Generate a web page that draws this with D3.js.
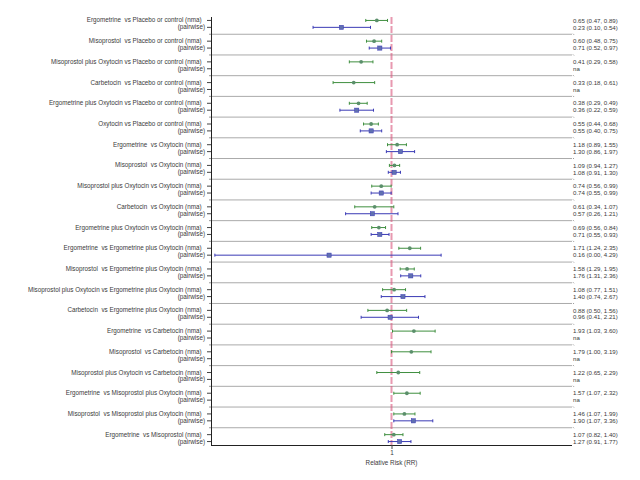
<!DOCTYPE html>
<html>
<head>
<meta charset="utf-8">
<script src="https://cdn.jsdelivr.net/npm/d3@7/dist/d3.min.js"></script>
<style>
  body { margin: 0; background: #fff; }
  svg text { font-family: "Liberation Sans", Arial, sans-serif; fill: #3a3a3a; }
</style>
</head>
<body>
<div id="chart"></div>
<script>
// ── Data ──────────────────────────────────────────────────────────────
var comparisons = [
    "Ergometrine  vs Placebo or control",
    "Misoprostol  vs Placebo or control",
    "Misoprostol plus Oxytocin vs Placebo or control",
    "Carbetocin  vs Placebo or control",
    "Ergometrine plus Oxytocin vs Placebo or control",
    "Oxytocin vs Placebo or control",
    "Ergometrine  vs Oxytocin",
    "Misoprostol  vs Oxytocin",
    "Misoprostol plus Oxytocin vs Oxytocin",
    "Carbetocin  vs Oxytocin",
    "Ergometrine plus Oxytocin vs Oxytocin",
    "Ergometrine  vs Ergometrine plus Oxytocin",
    "Misoprostol  vs Ergometrine plus Oxytocin",
    "Misoprostol plus Oxytocin vs Ergometrine plus Oxytocin",
    "Carbetocin  vs Ergometrine plus Oxytocin",
    "Ergometrine  vs Carbetocin",
    "Misoprostol  vs Carbetocin",
    "Misoprostol plus Oxytocin vs Carbetocin",
    "Ergometrine  vs Misoprostol plus Oxytocin",
    "Misoprostol  vs Misoprostol plus Oxytocin",
    "Ergometrine  vs Misoprostol"
];

// network meta-analysis estimates: RR, lower, upper
var nmaRR = [0.65, 0.60, 0.41, 0.33, 0.38, 0.55, 1.18, 1.09, 0.74, 0.61, 0.69,
             1.71, 1.58, 1.08, 0.88, 1.93, 1.79, 1.22, 1.57, 1.46, 1.07];
var nmaLo = [0.47, 0.48, 0.29, 0.18, 0.29, 0.44, 0.89, 0.94, 0.56, 0.34, 0.56,
             1.24, 1.29, 0.77, 0.50, 1.03, 1.00, 0.65, 1.07, 1.07, 0.82];
var nmaHi = [0.89, 0.75, 0.58, 0.61, 0.49, 0.68, 1.55, 1.27, 0.99, 1.07, 0.84,
             2.35, 1.95, 1.51, 1.56, 3.60, 3.19, 2.29, 2.32, 1.99, 1.40];

// pairwise estimates (null = not available)
var pwRR = [0.23, 0.71, null, null, 0.36, 0.55, 1.30, 1.08, 0.74, 0.57, 0.71,
            0.16, 1.76, 1.40, 0.96, null, null, null, null, 1.90, 1.27];
var pwLo = [0.10, 0.52, null, null, 0.22, 0.40, 0.86, 0.91, 0.55, 0.26, 0.55,
            0.0056, 1.31, 0.74, 0.41, null, null, null, null, 1.07, 0.91];
var pwHi = [0.54, 0.97, null, null, 0.59, 0.75, 1.97, 1.30, 0.99, 1.21, 0.93,
            4.29, 2.36, 2.67, 2.21, null, null, null, null, 3.36, 1.77];

// printed estimate labels on the right
var nmaText = ["0.65 (0.47, 0.89)", "0.60 (0.48, 0.75)", "0.41 (0.29, 0.58)",
    "0.33 (0.18, 0.61)", "0.38 (0.29, 0.49)", "0.55 (0.44, 0.68)", "1.18 (0.89, 1.55)",
    "1.09 (0.94, 1.27)", "0.74 (0.56, 0.99)", "0.61 (0.34, 1.07)", "0.69 (0.56, 0.84)",
    "1.71 (1.24, 2.35)", "1.58 (1.29, 1.95)", "1.08 (0.77, 1.51)", "0.88 (0.50, 1.56)",
    "1.93 (1.03, 3.60)", "1.79 (1.00, 3.19)", "1.22 (0.65, 2.29)", "1.57 (1.07, 2.32)",
    "1.46 (1.07, 1.99)", "1.07 (0.82, 1.40)"];
var pwText = ["0.23 (0.10, 0.54)", "0.71 (0.52, 0.97)", "na", "na",
    "0.36 (0.22, 0.59)", "0.55 (0.40, 0.75)", "1.30 (0.86, 1.97)", "1.08 (0.91, 1.30)",
    "0.74 (0.55, 0.99)", "0.57 (0.26, 1.21)", "0.71 (0.55, 0.93)", "0.16 (0.00, 4.29)",
    "1.76 (1.31, 2.36)", "1.40 (0.74, 2.67)", "0.96 (0.41, 2.21)", "na", "na", "na", "na",
    "1.90 (1.07, 3.36)", "1.27 (0.91, 1.77)"];

var xTicks = [1];
var xTitle = "Relative Risk (RR)";

// ── Layout ────────────────────────────────────────────────────────────
var width = 640, height = 480;
var mLeft = 211, mRight = 572, mTop = 17, mBottom = 445;

var svg = d3.select('#chart').append('svg')
    .attr('width', width).attr('height', height);

// three slots per comparison: nma, pairwise, spacer (last spacer dropped)
var slots = [];
comparisons.forEach(function (c, i) {
    slots.push({ key: i + '_n', i: i, kind: 'nma', label: c + ' (nma)  ' });
    slots.push({ key: i + '_p', i: i, kind: 'pw', label: '(pairwise)' });
    if (i < comparisons.length - 1) slots.push({ key: i + '_s', i: i, kind: 'sp', label: '' });
});
var slotLabel = {};
slots.forEach(function (s) { slotLabel[s.key] = s.label; });

var y = d3.scaleBand()
    .domain(slots.map(function (d) { return d.key; }))
    .range([mTop, mBottom]);
var yc = function (k) { return y(k) + y.bandwidth() / 2; };

var x = d3.scaleLog().domain([0.005, 200]).range([mLeft, mRight]).clamp(true);

var spacers = slots.filter(function (d) { return d.kind === 'sp'; });

// separators between comparisons
svg.append('g').selectAll('line')
    .data(spacers)
    .enter().append('line')
    .attr('x1', mLeft).attr('x2', mRight)
    .attr('y1', function (d) { return yc(d.key); })
    .attr('y2', function (d) { return yc(d.key); })
    .attr('stroke', '#aaa').attr('stroke-width', 1);

// small marks at spacer slots on the right
svg.append('g').selectAll('line')
    .data(spacers)
    .enter().append('line')
    .attr('x1', mRight + 1).attr('x2', mRight + 2)
    .attr('y1', function (d) { return yc(d.key) - 0.5; })
    .attr('y2', function (d) { return yc(d.key) + 0.5; })
    .attr('stroke', '#999');

// reference line at RR = 1
svg.append('line')
    .attr('x1', x(1)).attr('x2', x(1))
    .attr('y1', mTop).attr('y2', mBottom)
    .attr('stroke', '#d9557c').attr('stroke-opacity', 0.6)
    .attr('stroke-width', 2).attr('stroke-dasharray', '7,2');

// left axis with row labels
var yAxisG = svg.append('g')
    .attr('transform', 'translate(' + mLeft + ',0)')
    .call(d3.axisLeft(y).tickSize(4).tickPadding(2)
        .tickFormat(function (k) { return slotLabel[k]; }));
yAxisG.select('.domain').attr('stroke', '#222').attr('d', 'M0.5,' + mTop + 'V' + mBottom);
yAxisG.selectAll('.tick text')
    .style('font-size', '6.3px').style('white-space', 'pre').attr('fill', '#3a3a3a');
yAxisG.selectAll('.tick line').attr('stroke', '#444');
yAxisG.selectAll('.tick').filter(function (k) { return /_s$/.test(k); })
    .select('line').attr('x2', -2).attr('stroke', '#999');

// bottom axis
var xAxisG = svg.append('g')
    .attr('transform', 'translate(0,' + mBottom + ')')
    .call(d3.axisBottom(x).tickValues(xTicks).tickSize(4).tickPadding(2)
        .tickFormat(d3.format('d')));
xAxisG.select('.domain').attr('stroke', '#222').attr('d', 'M' + mLeft + ',0.5H' + mRight);
xAxisG.selectAll('.tick text').style('font-size', '6.3px').attr('fill', '#3a3a3a');
xAxisG.selectAll('.tick line').attr('stroke', '#444');

svg.append('text')
    .attr('x', x(1)).attr('y', 465)
    .attr('text-anchor', 'middle')
    .style('font-size', '6.3px')
    .text(xTitle);

// estimates
var greenLine = '#3f8f3f', greenPt = '#5b8f6b';
var blueLine = '#3a3ab5', bluePt = '#6070b0';

var g = svg.append('g');
comparisons.forEach(function (c, i) {
    var yn = yc(i + '_n'), yp = yc(i + '_p');

    // nma: line, caps, circle
    g.append('line')
        .attr('x1', x(nmaLo[i])).attr('x2', x(nmaHi[i]))
        .attr('y1', yn).attr('y2', yn)
        .attr('stroke', greenLine).attr('stroke-width', 1);
    [nmaLo[i], nmaHi[i]].forEach(function (v) {
        g.append('line')
            .attr('x1', x(v)).attr('x2', x(v))
            .attr('y1', yn - 1.5).attr('y2', yn + 1.5)
            .attr('stroke', greenLine);
    });
    g.append('circle')
        .attr('cx', x(nmaRR[i])).attr('cy', yn).attr('r', 1.9)
        .attr('fill', greenPt);

    // pairwise: line, caps, square
    if (pwRR[i] != null) {
        g.append('line')
            .attr('x1', x(pwLo[i])).attr('x2', x(pwHi[i]))
            .attr('y1', yp).attr('y2', yp)
            .attr('stroke', blueLine).attr('stroke-width', 1);
        [pwLo[i], pwHi[i]].forEach(function (v) {
            g.append('line')
                .attr('x1', x(v)).attr('x2', x(v))
                .attr('y1', yp - 1.5).attr('y2', yp + 1.5)
                .attr('stroke', blueLine);
        });
        g.append('rect')
            .attr('x', x(pwRR[i]) - 2.1).attr('y', yp - 2.1)
            .attr('width', 4.2).attr('height', 4.2)
            .attr('fill', bluePt).attr('stroke', blueLine).attr('stroke-width', 0.5);
    }

    // right-hand labels
    svg.append('text')
        .attr('x', mRight + 1).attr('y', yn + 2.2)
        .style('font-size', '6.1px').text(nmaText[i]);
    svg.append('text')
        .attr('x', mRight + 1).attr('y', yp + 2.2)
        .style('font-size', '6.1px').text(pwText[i]);
});
</script>
</body>
</html>
